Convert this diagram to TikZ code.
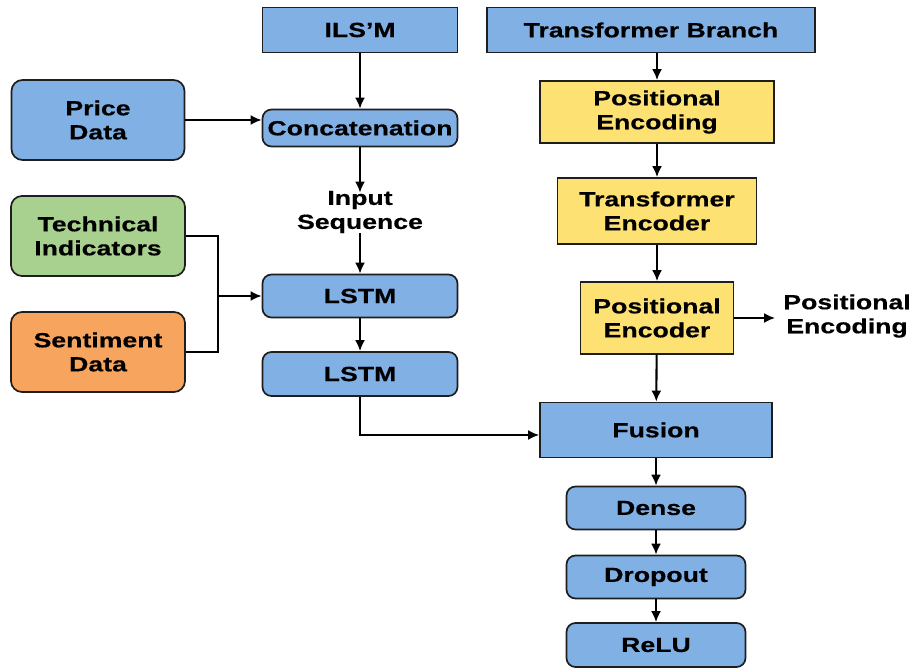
\documentclass[tikz,border=0pt]{standalone}
\usepackage{fontspec}
\setmainfont{Liberation Sans}[FakeStretch=1.3, BoldFeatures={FakeBold=0.4}]
\usetikzlibrary{arrows.meta}
\definecolor{bluef}{RGB}{128,176,228}
\definecolor{greenf}{RGB}{168,208,142}
\definecolor{orangef}{RGB}{246,164,94}
\definecolor{yellowf}{RGB}{253,225,114}
\definecolor{linec}{RGB}{30,30,30}
\begin{document}
\begin{tikzpicture}[x=1pt,y=-1pt,
  font=\fontsize{20.5}{24}\selectfont\bfseries,
  box/.style={draw=linec, line width=1.7pt, align=center, inner sep=0pt},
  sq/.style={box},
  rnd/.style={box, rounded corners=9pt},
  txt/.style={align=center, inner sep=0pt},
  arr/.style={-{Latex[length=11pt,width=10pt]}, line width=2.1pt, draw=black},
  ln/.style={line width=2.1pt, draw=black}]
\useasboundingbox[fill=white] (0,0) rectangle (914,668);

% left column
\node[sq, fill=bluef, minimum width=195pt, minimum height=45pt] (ilsm) at (360,30) {ILS'M};
\node[rnd, fill=bluef, minimum width=173pt, minimum height=80pt, rounded corners=11pt] (price) at (98,120) {Price\\Data};
\node[rnd, fill=bluef, minimum width=195pt, minimum height=37pt] (concat) at (360,128) {Concatenation};
\node[txt] (inseq) at (360,212) {Input\\Sequence};
\node[rnd, fill=greenf, minimum width=174pt, minimum height=80pt, rounded corners=11pt] (tech) at (98,236) {Technical\\Indicators};
\node[rnd, fill=orangef, minimum width=174pt, minimum height=80pt, rounded corners=11pt] (sent) at (98,352) {Sentiment\\Data};
\node[rnd, fill=bluef, minimum width=195pt, minimum height=43pt] (lstma) at (360,296) {LSTM};
\node[rnd, fill=bluef, minimum width=195pt, minimum height=44pt] (lstmb) at (360,374) {LSTM};

% right column
\node[sq, fill=bluef, minimum width=328pt, minimum height=45pt] (tb) at (651,30) {Transformer Branch};
\node[sq, fill=yellowf, minimum width=234pt, minimum height=62pt] (pe) at (657,112) {Positional\\Encoding};
\node[sq, fill=yellowf, minimum width=199pt, minimum height=66pt] (te) at (657,211) {Transformer\\Encoder};
\node[sq, fill=yellowf, minimum width=153pt, minimum height=72pt] (penc) at (657,318) {Positional\\Encoder};
\node[txt] (peout) at (847,316) {Positional\\Encoding};
\node[sq, fill=bluef, minimum width=232pt, minimum height=55pt] (fusion) at (656,430) {Fusion};
\node[rnd, fill=bluef, minimum width=179pt, minimum height=43pt] (dense) at (656,508) {Dense};
\node[rnd, fill=bluef, minimum width=179pt, minimum height=43pt] (drop) at (656,577) {Dropout};
\node[rnd, fill=bluef, minimum width=179pt, minimum height=44pt] (relu) at (656,645) {ReLU};

\coordinate (join) at (218,296);

% connectors
\draw[arr] (ilsm) -- (concat);
\draw[arr] (price.east) -- (price.east -| concat.west);
\draw[arr] (concat) -- ([yshift=-2pt]inseq.north);
\draw[arr] (inseq) -- (lstma);
\draw[ln] (tech.east) -| (join);
\draw[ln] (sent.east) -| (join);
\draw[arr] (join) -- (lstma.west);
\draw[arr] (lstma) -- (lstmb);
\draw[arr] (lstmb.south) |- ([yshift=-5pt]fusion.west);

\draw[arr] (pe.north |- tb.south) -- (pe.north);
\draw[arr] (pe) -- (te);
\draw[arr] (te) -- (penc);
\draw[arr] (penc.east) -- ([xshift=-8pt]peout.west |- penc.east);
\draw[arr] (penc) -- (fusion);
\draw[arr] (fusion) -- (dense);
\draw[arr] (dense) -- (drop);
\draw[arr] (drop) -- (relu);
\end{tikzpicture}
\end{document}
